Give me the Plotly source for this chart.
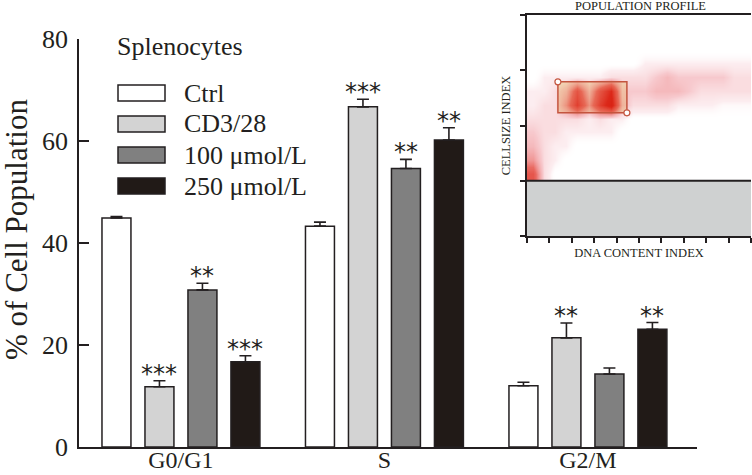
import plotly.graph_objects as go

# ---------------- data ----------------
categories = ["G0/G1", "S", "G2/M"]
series_names = ["Ctrl", "CD3/28", "100 \u03bcmol/L", "250 \u03bcmol/L"]
ctrl = [44.9, 43.3, 12.0]
cd3_28 = [11.8, 66.7, 21.4]
dose_100 = [30.8, 54.6, 14.3]
dose_250 = [16.7, 60.2, 23.1]
err_ctrl = [0.3, 0.8, 0.7]
err_cd3_28 = [1.2, 1.5, 2.9]
err_100 = [1.3, 1.8, 1.2]
err_250 = [1.2, 2.4, 1.3]
sig_ctrl = ["", "", ""]
sig_cd3_28 = ["***", "***", "**"]
sig_100 = ["**", "**", ""]
sig_250 = ["***", "**", "**"]
y_ticks = [0, 20, 40, 60, 80]

# inset (flow cytometry population profile), density
inset_x = [0.25, 0.75, 1.25, 1.75, 2.25, 2.75, 3.25, 3.75, 4.25, 4.75,
           5.25, 5.75, 6.25, 6.75, 7.25, 7.75, 8.25, 8.75, 9.25, 9.75]
inset_y = [1.125, 1.375, 1.625, 1.875, 2.125, 2.375, 2.625, 2.875,
           3.125, 3.375, 3.625, 3.875]
inset_density = [
    [5, 1, 0, 0, 0, 0, 0, 0, 0, 0, 0, 0, 0, 0, 0, 0, 0, 0, 0, 0],
    [3, 1, 0.5, 0, 0, 0, 0, 0, 0, 0, 0, 0, 0, 0, 0, 0, 0, 0, 0, 0],
    [2, 1, 0.5, 0.5, 0, 0, 0, 0, 0, 0, 0, 0, 0, 0, 0, 0, 0, 0, 0, 0],
    [1.5, 1, 1, 0.5, 0.5, 0.5, 0.5, 0.5, 0, 0, 0, 0, 0, 0, 0, 0, 0, 0, 0, 0],
    [1, 1, 1, 1, 1, 0.5, 1, 0.5, 0.5, 0, 0, 0, 0, 0, 0, 0, 0, 0, 0, 0],
    [0.5, 1, 1, 3, 6, 3, 6, 8, 2, 1, 1, 1, 1, 0.5, 0.5, 0.5, 0.5, 0.3, 0.3, 0.3],
    [0.5, 0.5, 1, 2, 5, 2, 5, 7, 1.5, 1.5, 1.5, 2, 2, 2, 1.5, 1, 1, 1, 1, 1],
    [0, 0.5, 0.5, 0.5, 0.5, 0.5, 0.5, 1, 1, 1, 1, 1.5, 2, 1.5, 1.5, 1.5, 1.5, 1.5, 1, 1],
    [0, 0, 0, 0, 0, 0, 0, 0, 0, 0, 0.5, 0.5, 0.5, 0.5, 0.5, 0.5, 0.5, 0.5, 0.5, 0.5],
    [0] * 20,
    [0] * 20,
    [0] * 20,
]
gate_x = [1.38, 4.46]
gate_y = [2.23, 2.79]
inset_x_ticks = list(range(0, 11))
inset_y_ticks = [0, 1, 2, 3, 4]

# ---------------- styling ----------------
W, H = 752, 475
ML, MR, MT, MB = 79, 1, 15, 28
PW, PH = W - ML - MR, H - MT - MB
INK = "#231f20"
SERIF = "Liberation Serif, Times New Roman, serif"
colors = ["#ffffff", "#d3d3d3", "#808080", "#211a17"]


def px_x(px):
    return (px - ML) / PW


def px_y(py):
    return (H - MB - py) / PH


values = [ctrl, cd3_28, dose_100, dose_250]
errors = [err_ctrl, err_cd3_28, err_100, err_250]
sigs = [sig_ctrl, sig_cd3_28, sig_100, sig_250]
xs = list(range(len(categories)))

fig = go.Figure()
for name, v, e, c in zip(series_names, values, errors, colors):
    fig.add_trace(go.Bar(
        x=xs, y=v, name=name, marker=dict(color=c, line=dict(color=INK, width=1.5)),
        error_y=dict(type="data", array=e, arrayminus=[0] * len(e), symmetric=False,
                     color=INK, thickness=1.6, width=6),
        showlegend=False, xaxis="x", yaxis="y"))

# inset
fig.add_trace(go.Heatmap(
    x=inset_x, y=inset_y, z=inset_density, zmin=0, zmax=10, zsmooth="best",
    colorscale=[[0, "rgba(255,255,255,0)"], [0.05, "rgba(242,175,185,0.22)"],
                [0.15, "rgba(236,125,135,0.42)"], [0.4, "rgba(228,70,60,0.8)"],
                [0.7, "rgb(220,40,25)"], [1, "rgb(210,25,10)"]],
    showscale=False, xaxis="x2", yaxis="y2", hoverinfo="skip"))

# group geometry
bargap = 0.155
bargroupgap = 0.326
slot = (1 - bargap) / len(series_names)

annotations = []
for j, (v, e, s) in enumerate(zip(values, errors, sigs)):
    off = (j - (len(series_names) - 1) / 2) * slot
    for i in xs:
        if s[i]:
            annotations.append(dict(
                x=i + off, y=v[i] + e[i], xref="x", yref="y", text=s[i],
                showarrow=False, yanchor="bottom", xanchor="center", yshift=-9,
                font=dict(family="DejaVu Sans", size=24, color=INK)))

# legend (drawn)
shapes = []
leg_rows = [93, 124, 155, 186]
for name, c, ry in zip(series_names, colors, leg_rows):
    shapes.append(dict(type="rect", xref="paper", yref="paper",
                       x0=px_x(118), x1=px_x(165), y0=px_y(ry + 8), y1=px_y(ry - 8),
                       fillcolor=c, line=dict(color=INK, width=1.5)))
    annotations.append(dict(x=px_x(182), y=px_y(ry), xref="paper", yref="paper",
                            text=name, showarrow=False, xanchor="left", yanchor="middle",
                            font=dict(family=SERIF, size=26, color=INK)))
annotations.append(dict(x=px_x(115), y=px_y(46), xref="paper", yref="paper",
                        text="Splenocytes", showarrow=False, xanchor="left", yanchor="middle",
                        font=dict(family=SERIF, size=26, color=INK)))
annotations.append(dict(x=px_x(16), y=px_y(230), xref="paper", yref="paper",
                        text="% of Cell Population", showarrow=False, textangle=-90,
                        xanchor="center", yanchor="middle",
                        font=dict(family=SERIF, size=31, color=INK)))

# inset decorations
shapes.append(dict(type="rect", xref="x2", yref="y2", x0=inset_x_ticks[0], x1=inset_x_ticks[-1],
                   y0=inset_y_ticks[0], y1=inset_y_ticks[1], fillcolor="#cfd1d1",
                   line=dict(width=0), layer="below"))
shapes.append(dict(type="line", xref="x2", yref="y2", x0=inset_x_ticks[0], x1=inset_x_ticks[-1],
                   y0=inset_y_ticks[1], y1=inset_y_ticks[1], line=dict(color=INK, width=2)))
shapes.append(dict(type="rect", xref="x2", yref="y2", x0=gate_x[0], x1=gate_x[1],
                   y0=gate_y[0], y1=gate_y[1], fillcolor="rgba(240,236,170,0.8)",
                   line=dict(width=0), layer="below"))
shapes.append(dict(type="rect", xref="x2", yref="y2", x0=gate_x[0], x1=gate_x[1],
                   y0=gate_y[0], y1=gate_y[1], line=dict(color="#c4553f", width=1.5)))
for gx, gy in [(gate_x[0], gate_y[1]), (gate_x[1], gate_y[0])]:
    shapes.append(dict(type="circle", xref="x2", yref="y2", xsizemode="pixel",
                       ysizemode="pixel", xanchor=gx, yanchor=gy, x0=-3, x1=3, y0=-3, y1=3,
                       fillcolor="white", line=dict(color="#c4553f", width=1.2)))

annotations.append(dict(x=px_x(640), y=px_y(6), xref="paper", yref="paper",
                        text="POPULATION PROFILE", showarrow=False, xanchor="center",
                        yanchor="middle", font=dict(family=SERIF, size=12.5, color=INK)))

fig.update_layout(
    width=W, height=H, margin=dict(l=ML, r=MR, t=MT, b=MB, pad=0, autoexpand=False),
    paper_bgcolor="white", plot_bgcolor="rgba(0,0,0,0)",
    barmode="group", bargap=bargap, bargroupgap=bargroupgap,
    font=dict(family=SERIF, color=INK),
    xaxis=dict(domain=[0, px_x(697)], range=[-0.501, 2.536], tickvals=xs,
               ticktext=categories, showline=True, linecolor=INK, linewidth=1.6,
               ticks="", showgrid=False, zeroline=False, ticklabelstandoff=-10,
               tickfont=dict(family=SERIF, size=24, color=INK)),
    yaxis=dict(domain=[0, px_y(39)], range=[0, 80], tickvals=y_ticks,
               showline=True, linecolor=INK, linewidth=1.6, ticks="inside",
               ticklen=10, tickwidth=1.6, tickcolor=INK, showgrid=False, zeroline=False,
               ticklabelstandoff=4, tickfont=dict(family=SERIF, size=26, color=INK)),
    xaxis2=dict(domain=[px_x(527), 1.0], range=[0, 10], anchor="y2", tickvals=inset_x_ticks,
                showticklabels=False, ticks="outside", ticklen=5, tickwidth=1.5,
                tickcolor=INK, showline=True, linecolor=INK, linewidth=2, mirror=True,
                showgrid=False, zeroline=False,
                title=dict(text="DNA CONTENT INDEX", standoff=6,
                           font=dict(family=SERIF, size=12.5, color=INK))),
    yaxis2=dict(domain=[px_y(236), 1.0], range=[0, 4], anchor="x2", tickvals=inset_y_ticks,
                showticklabels=False, ticks="outside", ticklen=5, tickwidth=1.5,
                tickcolor=INK, showline=True, linecolor=INK, linewidth=2,
                showgrid=False, zeroline=False,
                title=dict(text="CELLSIZE INDEX", standoff=7,
                           font=dict(family=SERIF, size=12.5, color=INK))),
    shapes=shapes, annotations=annotations,
)

fig.write_html("out.html", config={"displayModeBar": False},
               post_script="document.body.style.margin='0';document.body.style.overflow='hidden';")
